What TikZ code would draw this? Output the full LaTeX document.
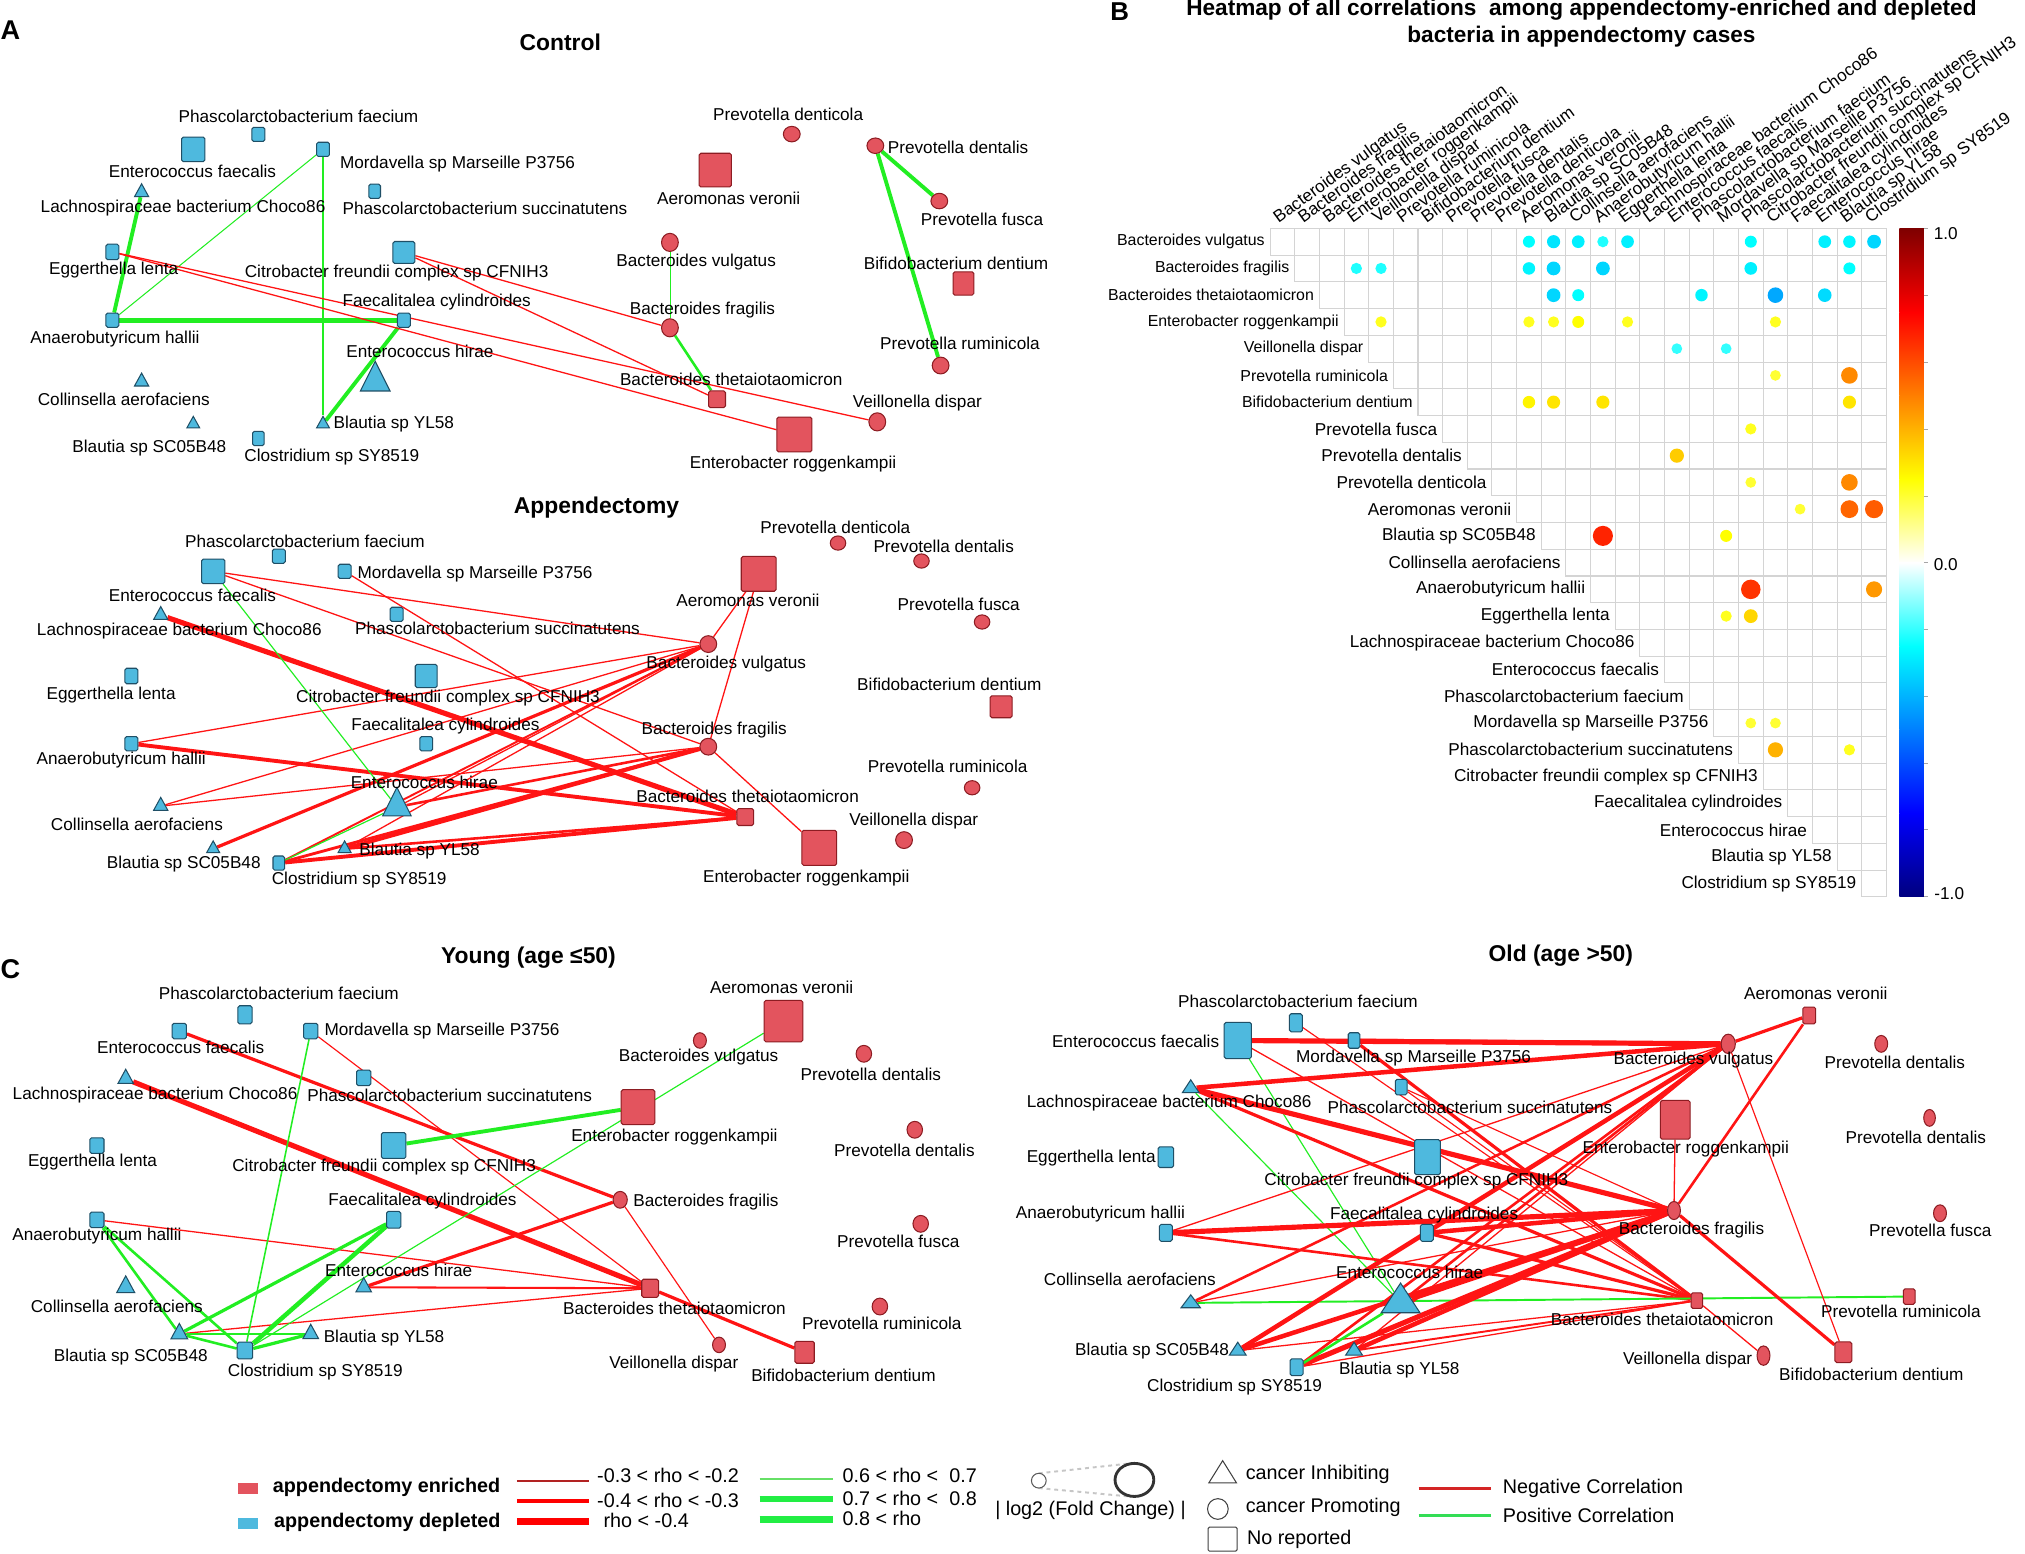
\documentclass[tikz,border=0pt]{standalone}
\usepackage{fontspec}
\setmainfont{Liberation Sans}
\usetikzlibrary{shapes.geometric}
\pgfdeclarelayer{edges}
\pgfdeclarelayer{bg}
\pgfsetlayers{bg,edges,main}
\definecolor{depC}{HTML}{4EB9DE}
\definecolor{depD}{HTML}{1F4F66}
\definecolor{enrC}{HTML}{E3545E}
\definecolor{enrD}{HTML}{8C1C22}
\definecolor{negC}{HTML}{FF1414}
\definecolor{posC}{HTML}{22EE22}
\definecolor{hmDR}{HTML}{7F0000}
\definecolor{hmR}{HTML}{FF0000}
\definecolor{hmO}{HTML}{FF7F00}
\definecolor{hmY}{HTML}{FFFF00}
\definecolor{hmC}{HTML}{00FFFF}
\definecolor{hmB1}{HTML}{007FFF}
\definecolor{hmB}{HTML}{0000FF}
\definecolor{hmDB}{HTML}{00007F}
\definecolor{gridc}{HTML}{D4D4D4}
\definecolor{lgDR}{HTML}{B22222}
\definecolor{lgG1}{HTML}{66E066}
\definecolor{lgG}{HTML}{22EE44}
\definecolor{lgNeg}{HTML}{D42525}
\definecolor{lgPos}{HTML}{33DD55}
\newcommand\mylf{\fontsize{13.3}{15}\selectfont}
\newcommand\myhf{\fontsize{12.3}{14}\selectfont}
\newcommand\myhcf{\fontsize{13.3}{15}\selectfont}
\newcommand\myttl{\fontsize{17.7}{20}\selectfont\bfseries}
\newcommand\mylg{\fontsize{15.3}{17}\selectfont}
\newcommand\hdot[4]{\fill[#4] ({983+(#2-0.5)*19.08},{176.7+(#1-0.5)*20.7}) circle[radius={9.3*sqrt(#3)}];}
\begin{document}
\begin{tikzpicture}[x=1pt,y=-1pt,
  lbl/.style={font=\mylf, inner sep=0pt},
  lblw/.style={lbl, anchor=west},
  lble/.style={lbl, anchor=east},
  ttl/.style={font=\myttl, inner sep=0pt},
  dep/.style={fill=depC, draw=depD, line width=0.8pt},
  enr/.style={fill=enrC, draw=enrD, line width=0.8pt},
  sq/.style 2 args={rectangle, rounded corners=1.3pt, minimum width=#1pt, minimum height=#2pt, inner sep=0pt},
  el/.style 2 args={ellipse, minimum width=#1pt, minimum height=#2pt, inner sep=0pt},
  tri/.style 2 args={isosceles triangle, isosceles triangle stretches, rotate=90, minimum width=#2pt, minimum height=#1pt, inner sep=0pt},
  negl/.style={draw=negC, line width=#1pt},
  posl/.style={draw=posC, line width=#1pt},
  lgt/.style={font=\mylg, inner sep=0pt, anchor=west}
]
\useasboundingbox (0,0) rectangle (1567.3,1202);
\begin{pgfonlayer}{bg}
\fill[white] (0,0) rectangle (1567.3,1202);
\end{pgfonlayer}

% ================= Panel letters and titles
\node[font=\fontsize{21}{24}\selectfont\bfseries, inner sep=0] (pA) at (8,23) {A};
\node[font=\fontsize{20}{24}\selectfont\bfseries, inner sep=0] (pB) at (866.6,9) {B};
\node[font=\fontsize{21}{24}\selectfont\bfseries, inner sep=0] (pC) at (8,750) {C};
\node[ttl] (tCtrl) at (433.6,33) {Control};
\node[ttl] (tApp) at (461.7,392.9) {Appendectomy};
\node[ttl] (tYoung) at (409,741.3) {Young (age ≤50)};
\node[ttl] (tOld) at (1208,739.5) {Old (age >50)};

% ================= Control
\node[dep,sq={10}{11}] (cPf) at (200,104) {};
\node[lbl] (cPfL) at (231,90) {Phascolarctobacterium faecium};
\node[dep,sq={18}{19}] (cEf) at (149.6,115.6) {};
\node[lbl] (cEfL) at (149,133) {Enterococcus faecalis};
\node[dep,sq={10}{11}] (cMo) at (250,115.6) {};
\node[lblw] (cMoL) at (263,127) {Mordavella sp Marseille P3756};
\node[dep,tri={10}{11}] (cLa) at (109.6,149) {};
\node[lbl] (cLaL) at (141.7,160.8) {Lachnospiraceae bacterium Choco86};
\node[dep,sq={9}{11}] (cPs) at (290,148) {};
\node[lblw] (cPsL) at (265,161) {Phascolarctobacterium succinatutens};
\node[dep,sq={10}{12}] (cEl) at (87,195) {};
\node[lbl] (cElL) at (88,209) {Eggerthella lenta};
\node[dep,sq={17}{17}] (cCi) at (312.6,195.4) {};
\node[lbl] (cCiL) at (307,211) {Citrobacter freundii complex sp CFNIH3};
\node[dep,sq={10}{11}] (cFc) at (312.6,247.8) {};
\node[lbl] (cFcL) at (338,234) {Faecalitalea cylindroides};
\node[dep,sq={10}{11}] (cAh) at (87,247.8) {};
\node[lbl] (cAhL) at (89,262.7) {Anaerobutyricum hallii};
\node[dep,tri={23}{23}] (cEh) at (290.4,295.5) {};
\node[lbl] (cEhL) at (325,271.8) {Enterococcus hirae};
\node[dep,tri={10}{11}] (cCo) at (109.6,295.5) {};
\node[lbl] (cCoL) at (95.8,309) {Collinsella aerofaciens};
\node[dep,tri={9}{10}] (cBs) at (149.6,328.3) {};
\node[lbl] (cBsL) at (115.6,347) {Blautia sp SC05B48};
\node[dep,tri={9}{10}] (cBy) at (250,328.3) {};
\node[lblw] (cByL) at (258,328) {Blautia sp YL58};
\node[dep,sq={9}{11}] (cCl) at (200,339.4) {};
\node[lbl] (cClL) at (256.8,353.6) {Clostridium sp SY8519};
\node[enr,el={13}{12}] (cPdc) at (612.8,103.8) {};
\node[lbl] (cPdcL) at (610,88.5) {Prevotella denticola};
\node[enr,sq={25}{26}] (cAv) at (553.6,131.6) {};
\node[lbl] (cAvL) at (564,153.3) {Aeromonas veronii};
\node[enr,el={13}{12}] (cPdl) at (677.5,112.8) {};
\node[lblw] (cPdlL) at (687,114) {Prevotella dentalis};
\node[enr,el={13}{12}] (cPfu) at (727,155.6) {};
\node[lbl] (cPfuL) at (760,170) {Prevotella fusca};
\node[enr,el={13}{14}] (cBv) at (518.5,187.6) {};
\node[lbl] (cBvL) at (538.8,202.6) {Bacteroides vulgatus};
\node[enr,sq={16}{18}] (cBd) at (745.7,219.4) {};
\node[lbl] (cBdL) at (740,204) {Bifidobacterium dentium};
\node[enr,el={13}{14}] (cBf) at (518.5,253.7) {};
\node[lbl] (cBfL) at (543.7,240) {Bacteroides fragilis};
\node[enr,el={13}{13}] (cPr) at (728,282.9) {};
\node[lbl] (cPrL) at (743,266) {Prevotella ruminicola};
\node[enr,sq={13}{13}] (cBt) at (555,309) {};
\node[lbl] (cBtL) at (566,293.7) {Bacteroides thetaiotaomicron};
\node[enr,el={13}{14}] (cVd) at (679,326.5) {};
\node[lbl] (cVdL) at (710,312) {Veillonella dispar};
\node[enr,sq={27}{27}] (cEr) at (614.8,336.3) {};
\node[lbl] (cErL) at (613.8,359.3) {Enterobacter roggenkampii};
\begin{pgfonlayer}{edges}
\draw[posl=3] (cLa) -- (cAh);
\draw[posl=0.8] (cMo) -- (cAh);
\draw[posl=0.9] (cMo) -- (cBy);
\draw[posl=4] (cAh) -- (cFc);
\draw[posl=3] (cFc) -- (cBy);
\draw[posl=0.6] (cBv) -- (cBf);
\draw[posl=2] (cBf) -- (cBt);
\draw[posl=3] (cPdl) -- (cPfu);
\draw[posl=3] (cPdl) -- (cPr);
\draw[negl=1] (cEl) -- (cVd);
\draw[negl=1] (cEl) -- (cEr);
\draw[negl=1] (cCi) -- (cBf);
\draw[negl=1] (cCi) -- (cBt);
\end{pgfonlayer}

% ================= Appendectomy
\node[dep,sq={10}{11}] (aPf) at (215.8,430.5) {};
\node[lbl] (aPfL) at (236,419) {Phascolarctobacterium faecium};
\node[dep,sq={18}{19}] (aEf) at (165,442.2) {};
\node[lbl] (aEfL) at (149,460.7) {Enterococcus faecalis};
\node[dep,sq={10}{11}] (aMo) at (266.7,442.2) {};
\node[lblw] (aMoL) at (276.5,444) {Mordavella sp Marseille P3756};
\node[dep,tri={10}{11}] (aLa) at (124.4,476.2) {};
\node[lbl] (aLaL) at (138.8,488.4) {Lachnospiraceae bacterium Choco86};
\node[dep,sq={10}{11}] (aPs) at (307,475.5) {};
\node[lbl] (aPsL) at (385,486.6) {Phascolarctobacterium succinatutens};
\node[dep,sq={10}{12}] (aEl) at (101.7,523.2) {};
\node[lbl] (aElL) at (86,538.2) {Eggerthella lenta};
\node[dep,sq={17}{18}] (aCi) at (329.9,523.2) {};
\node[lbl] (aCiL) at (346.7,540) {Citrobacter freundii complex sp CFNIH3};
\node[dep,sq={10}{11}] (aFc) at (329.9,575.6) {};
\node[lbl] (aFcL) at (344.7,562.2) {Faecalitalea cylindroides};
\node[dep,sq={10}{11}] (aAh) at (101.7,575.6) {};
\node[lbl] (aAhL) at (93.8,588.5) {Anaerobutyricum hallii};
\node[dep,tri={22}{22}] (aEh) at (307.2,624.6) {};
\node[lbl] (aEhL) at (328.4,605.8) {Enterococcus hirae};
\node[dep,tri={10}{11}] (aCo) at (124.4,623.9) {};
\node[lbl] (aCoL) at (106,638.3) {Collinsella aerofaciens};
\node[dep,tri={9}{10}] (aBs) at (165,656.9) {};
\node[lbl] (aBsL) at (142.2,669) {Blautia sp SC05B48};
\node[dep,sq={9}{11}] (aCl) at (215.8,668) {};
\node[lbl] (aClL) at (278,681.4) {Clostridium sp SY8519};
\node[dep,tri={9}{10}] (aBy) at (266.7,656.9) {};
\node[lblw] (aByL) at (278,659) {Blautia sp YL58};
\node[enr,el={12}{11}] (aPdc) at (648.6,420.3) {};
\node[lbl] (aPdcL) at (646.5,408) {Prevotella denticola};
\node[enr,el={12}{11}] (aPdl) at (713.2,434.2) {};
\node[lbl] (aPdlL) at (730.4,423) {Prevotella dentalis};
\node[enr,sq={27}{27}] (aAv) at (587.2,444.1) {};
\node[lbl] (aAvL) at (578.9,464.6) {Aeromonas veronii};
\node[enr,el={12}{11}] (aPfu) at (760.1,481.4) {};
\node[lbl] (aPfuL) at (742,468) {Prevotella fusca};
\node[enr,el={13}{13}] (aBv) at (548.2,498.5) {};
\node[lbl] (aBvL) at (562.1,513.6) {Bacteroides vulgatus};
\node[enr,sq={17}{17}] (aBd) at (774.8,547) {};
\node[lbl] (aBdL) at (734.8,529.5) {Bifidobacterium dentium};
\node[enr,el={13}{13}] (aBf) at (548.2,577.9) {};
\node[lbl] (aBfL) at (552.8,564.8) {Bacteroides fragilis};
\node[enr,el={12}{11}] (aPr) at (752.4,609.7) {};
\node[lbl] (aPrL) at (733.5,593) {Prevotella ruminicola};
\node[enr,sq={13}{13}] (aBt) at (576.8,632.4) {};
\node[lbl] (aBtL) at (578.6,616) {Bacteroides thetaiotaomicron};
\node[enr,el={13}{13}] (aVd) at (699.7,650.2) {};
\node[lbl] (aVdL) at (707.2,635.5) {Veillonella dispar};
\node[enr,sq={27}{27}] (aEr) at (634.1,656.2) {};
\node[lbl] (aErL) at (624,679.2) {Enterobacter roggenkampii};
\begin{pgfonlayer}{edges}
\draw[negl=1] (aEf) -- (aBv);
\draw[negl=1] (aEf) -- (aBf);
\draw[negl=1] (aMo) -- (aBt);
\draw[negl=4] (aLa) -- (aBt);
\draw[negl=1] (aAh) -- (aBv);
\draw[negl=3] (aAh) -- (aBt);
\draw[negl=1] (aCo) -- (aBv);
\draw[negl=1] (aCo) -- (aBf);
\draw[negl=2.5] (aBs) -- (aBv);
\draw[negl=1.5] (aCl) -- (aBv);
\draw[negl=1] (aBy) -- (aBv);
\draw[negl=1] (aEh) -- (aBv);
\draw[negl=2] (aEh) -- (aBf);
\draw[negl=2.2] (aCl) -- (aBf);
\draw[negl=3] (aBy) -- (aBf);
\draw[negl=3] (aCl) -- (aBt);
\draw[negl=2] (aBy) -- (aBt);
\draw[negl=1] (aAv) -- (aBv);
\draw[negl=1] (aAv) -- (aBf);
\draw[negl=1] (aBf) -- (aEr);
\draw[posl=0.9] (aEf) -- (aEh);
\draw[posl=0.9] (aCl) -- (aEh);
\end{pgfonlayer}

% ================= Young
\node[dep,sq={11}{14}] (yPf) at (189.6,785.4) {};
\node[lbl] (yPfL) at (215.8,769.1) {Phascolarctobacterium faecium};
\node[dep,sq={11}{12}] (yEf) at (138.8,798) {};
\node[lbl] (yEfL) at (139.8,811) {Enterococcus faecalis};
\node[dep,sq={11}{12}] (yMo) at (240.5,798) {};
\node[lblw] (yMoL) at (251,798) {Mordavella sp Marseille P3756};
\node[dep,tri={11}{12}] (yLa) at (97.3,835) {};
\node[lbl] (yLaL) at (120,847.3) {Lachnospiraceae bacterium Choco86};
\node[dep,sq={11}{12}] (yPs) at (281.5,834.2) {};
\node[lbl] (yPsL) at (348,847.9) {Phascolarctobacterium succinatutens};
\node[dep,sq={11}{12}] (yEl) at (75,886.6) {};
\node[lbl] (yElL) at (71.6,899.5) {Eggerthella lenta};
\node[dep,sq={19}{20}] (yCi) at (304.7,886.6) {};
\node[lbl] (yCiL) at (297.3,903.3) {Citrobacter freundii complex sp CFNIH3};
\node[dep,sq={11}{13}] (yFc) at (304.7,944.1) {};
\node[lbl] (yFcL) at (327,929.2) {Faecalitalea cylindroides};
\node[dep,sq={11}{12}] (yAh) at (75,944.1) {};
\node[lbl] (yAhL) at (75,957) {Anaerobutyricum hallii};
\node[dep,tri={11}{12}] (yEh) at (281.5,996.3) {};
\node[lbl] (yEhL) at (308.6,983.4) {Enterococcus hirae};
\node[dep,tri={13}{14}] (yCo) at (97.3,996.3) {};
\node[lbl] (yCoL) at (90.4,1011.2) {Collinsella aerofaciens};
\node[dep,tri={12}{13}] (yBs) at (138.8,1032.4) {};
\node[lbl] (yBsL) at (101.2,1050.5) {Blautia sp SC05B48};
\node[dep,tri={11}{12}] (yBy) at (240.5,1032.4) {};
\node[lblw] (yByL) at (250.4,1035.5) {Blautia sp YL58};
\node[dep,sq={12}{13}] (yCl) at (189.6,1045.3) {};
\node[lbl] (yClL) at (244,1062.1) {Clostridium sp SY8519};
\node[enr,sq={30}{32}] (yAv) at (606.4,790.3) {};
\node[lbl] (yAvL) at (605,764.5) {Aeromonas veronii};
\node[enr,el={10}{12}] (yBv) at (541.7,805.3) {};
\node[lbl] (yBvL) at (540.7,818.2) {Bacteroides vulgatus};
\node[enr,el={12}{13}] (yPdl) at (668.6,815.6) {};
\node[lbl] (yPdlL) at (674,831.6) {Prevotella dentalis};
\node[enr,sq={26}{27}] (yEr) at (493.8,856.9) {};
\node[lbl] (yErL) at (522,880.1) {Enterobacter roggenkampii};
\node[enr,el={12}{13}] (yPdm) at (708,874.4) {};
\node[lbl] (yPdmL) at (700,890.5) {Prevotella dentalis};
\node[enr,el={11}{13}] (yBf) at (480,928.6) {};
\node[lblw] (yBfL) at (490,930.5) {Bacteroides fragilis};
\node[enr,el={12}{13}] (yPfu) at (712.6,947.2) {};
\node[lbl] (yPfuL) at (695.3,960.6) {Prevotella fusca};
\node[enr,sq={13}{14}] (yBt) at (503.2,997.1) {};
\node[lbl] (yBtL) at (522,1013) {Bacteroides thetaiotaomicron};
\node[enr,el={12}{13}] (yPr) at (681,1011.2) {};
\node[lbl] (yPrL) at (682.5,1024.1) {Prevotella ruminicola};
\node[enr,el={10}{12}] (yVd) at (556.5,1040.9) {};
\node[lbl] (yVdL) at (521.5,1055.6) {Veillonella dispar};
\node[enr,sq={15}{17}] (yBd) at (622.7,1046.6) {};
\node[lbl] (yBdL) at (652.8,1064.7) {Bifidobacterium dentium};
\begin{pgfonlayer}{edges}
\draw[negl=2.5] (yEf) -- (yBf);
\draw[negl=0.9] (yMo) -- (yBt);
\draw[negl=4] (yLa) -- (yBt);
\draw[negl=2.5] (yBt) -- (yBd);
\draw[negl=0.9] (yBf) -- (yVd);
\draw[negl=1] (yAh) -- (yBt);
\draw[negl=2.5] (yEh) -- (yBf);
\draw[negl=1.6] (yEh) -- (yBt);
\draw[negl=1] (yBs) -- (yBt);
\draw[posl=3] (yCi) -- (yEr);
\draw[posl=0.9] (yAv) -- (yCl);
\draw[posl=1.2] (yMo) -- (yCl);
\draw[posl=2] (yAh) -- (yBs);
\draw[posl=2] (yAh) -- (yCl);
\draw[posl=2.5] (yFc) -- (yBs);
\draw[posl=3.5] (yFc) -- (yCl);
\draw[posl=2] (yBs) -- (yBy);
\draw[posl=2] (yBs) -- (yCl);
\draw[posl=2.5] (yCl) -- (yBy);
\end{pgfonlayer}

% ================= Old
\node[dep,sq={10}{14}] (oPf) at (1003,791.6) {};
\node[lbl] (oPfL) at (1004.6,774.8) {Phascolarctobacterium faecium};
\node[dep,sq={21}{28}] (oEf) at (958,805.3) {};
\node[lble] (oEfL) at (943.8,806) {Enterococcus faecalis};
\node[dep,sq={9}{12}] (oMo) at (1048,805.3) {};
\node[lbl] (oMoL) at (1094,819) {Mordavella sp Marseille P3756};
\node[dep,tri={10}{13}] (oLa) at (921.6,842.2) {};
\node[lbl] (oLaL) at (904.9,853.8) {Lachnospiraceae bacterium Choco86};
\node[dep,sq={9}{12}] (oPs) at (1084.5,841.4) {};
\node[lbl] (oPsL) at (1137.7,856.9) {Phascolarctobacterium succinatutens};
\node[dep,sq={12}{16}] (oEl) at (902.3,895.6) {};
\node[lble] (oElL) at (894.7,896.6) {Eggerthella lenta};
\node[dep,sq={20}{27}] (oCi) at (1104.8,895.6) {};
\node[lbl] (oCiL) at (1096.2,914.2) {Citrobacter freundii complex sp CFNIH3};
\node[dep,sq={10}{13}] (oFc) at (1104.3,954.2) {};
\node[lbl] (oFcL) at (1102.2,940.3) {Faecalitalea cylindroides};
\node[dep,sq={10}{13}] (oAh) at (902.3,954.2) {};
\node[lbl] (oAhL) at (851.7,940) {Anaerobutyricum hallii};
\node[dep,tri={23}{30}] (oEh) at (1084,1007.9) {};
\node[lbl] (oEhL) at (1091,984.4) {Enterococcus hirae};
\node[dep,tri={10}{15}] (oCo) at (921.6,1008.4) {};
\node[lbl] (oCoL) at (874.5,989.8) {Collinsella aerofaciens};
\node[dep,tri={10}{13}] (oBs) at (958,1045.3) {};
\node[lble] (oBsL) at (951.4,1045.8) {Blautia sp SC05B48};
\node[dep,tri={10}{13}] (oBy) at (1048,1045.3) {};
\node[lbl] (oByL) at (1083,1060.3) {Blautia sp YL58};
\node[dep,sq={10}{13}] (oCl) at (1003.5,1058.2) {};
\node[lbl] (oClL) at (955.5,1073.7) {Clostridium sp SY8519};
\node[enr,sq={10}{13}] (oAv) at (1400.3,785.9) {};
\node[lbl] (oAvL) at (1405.4,769.1) {Aeromonas veronii};
\node[enr,el={11}{15}] (oBv) at (1337.6,807.9) {};
\node[lbl] (oBvL) at (1310.7,820.8) {Bacteroides vulgatus};
\node[enr,el={10}{13}] (oPdl) at (1456,807.9) {};
\node[lbl] (oPdlL) at (1466.6,822.6) {Prevotella dentalis};
\node[enr,sq={23}{30}] (oEr) at (1296.6,866.7) {};
\node[lbl] (oErL) at (1304.7,889.2) {Enterobacter roggenkampii};
\node[enr,el={9}{13}] (oPdm) at (1493.4,865.2) {};
\node[lbl] (oPdmL) at (1482.8,879.9) {Prevotella dentalis};
\node[enr,el={10}{14}] (oBf) at (1295.6,936.9) {};
\node[lbl] (oBfL) at (1309.2,952.4) {Bacteroides fragilis};
\node[enr,el={10}{13}] (oPfu) at (1501.5,939) {};
\node[lbl] (oPfuL) at (1494,952.4) {Prevotella fusca};
\node[enr,sq={9}{12}] (oBt) at (1313.3,1006.6) {};
\node[lbl] (oBtL) at (1286.4,1021) {Bacteroides thetaiotaomicron};
\node[enr,sq={9}{12}] (oPr) at (1477.7,1003.5) {};
\node[lbl] (oPrL) at (1471.2,1014.8) {Prevotella ruminicola};
\node[enr,el={10}{15}] (oVd) at (1364.9,1049.2) {};
\node[lble] (oVdL) at (1356.3,1053) {Veillonella dispar};
\node[enr,sq={13}{16}] (oBd) at (1426.7,1046.6) {};
\node[lbl] (oBdL) at (1448.4,1063.4) {Bifidobacterium dentium};
\begin{pgfonlayer}{edges}
\draw[negl=4] (oEf) -- (oBv);
\draw[negl=1] (oEf) -- (oBt);
\draw[posl=0.9] (oEf) -- (oEh);
\draw[negl=0.9] (oPf) -- (oBt);
\draw[negl=3] (oMo) -- (oBv);
\draw[negl=2.5] (oMo) -- (oBt);
\draw[negl=3.5] (oLa) -- (oBv);
\draw[negl=4] (oLa) -- (oBf);
\draw[negl=2.5] (oLa) -- (oBt);
\draw[posl=0.9] (oLa) -- (oEh);
\draw[negl=0.9] (oPs) -- (oBf);
\draw[negl=0.9] (oPs) -- (oBt);
\draw[negl=1] (oAh) -- (oBv);
\draw[negl=4] (oAh) -- (oBf);
\draw[negl=2] (oAh) -- (oBt);
\draw[negl=3.5] (oFc) -- (oBf);
\draw[negl=2.5] (oFc) -- (oBt);
\draw[negl=2] (oCo) -- (oBv);
\draw[negl=1] (oCo) -- (oBf);
\draw[posl=1.5] (oCo) -- (oPr);
\draw[negl=3.5] (oBs) -- (oBv);
\draw[negl=3.5] (oBs) -- (oBf);
\draw[negl=1] (oBs) -- (oBt);
\draw[negl=2] (oCl) -- (oBv);
\draw[negl=4] (oCl) -- (oBf);
\draw[negl=1] (oCl) -- (oBt);
\draw[posl=2] (oCl) -- (oEh);
\draw[negl=1] (oBy) -- (oBv);
\draw[negl=3.5] (oBy) -- (oBf);
\draw[negl=1.5] (oBy) -- (oBt);
\draw[negl=2] (oEh) -- (oBv);
\draw[negl=4] (oEh) -- (oBf);
\draw[negl=2.5] (oBv) -- (oAv);
\draw[negl=2] (oAv) -- (oBf);
\draw[negl=1] (oEr) -- (oBf);
\draw[negl=0.9] (oBv) -- (oBd);
\draw[negl=2.5] (oBf) -- (oBd);
\draw[negl=1] (oBt) -- (oVd);
\end{pgfonlayer}

% ================= Heatmap B
\node[font=\fontsize{17.5}{20.7}\selectfont\bfseries, align=center, inner sep=0] (hmT) at (1224,18)
  {Heatmap of all correlations~ among appendectomy-enriched and depleted\\bacteria in appendectomy cases};
\foreach \i in {1,...,25}{\foreach \j in {\i,...,25}{
  \draw[gridc, line width=0.8pt] ({983+(\j-1)*19.08},{176.7+(\i-1)*20.7}) rectangle ++(19.08,20.7);}}
\foreach \nm [count=\i] in {Bacteroides vulgatus,Bacteroides fragilis,Bacteroides thetaiotaomicron,Enterobacter roggenkampii,Veillonella dispar,Prevotella ruminicola,Bifidobacterium dentium,Prevotella fusca,Prevotella dentalis,Prevotella denticola,Aeromonas veronii,Blautia sp SC05B48,Collinsella aerofaciens,Anaerobutyricum hallii,Eggerthella lenta,Lachnospiraceae bacterium Choco86,Enterococcus faecalis,Phascolarctobacterium faecium,Mordavella sp Marseille P3756,Phascolarctobacterium succinatutens,Citrobacter freundii complex sp CFNIH3,Faecalitalea cylindroides,Enterococcus hirae,Blautia sp YL58,Clostridium sp SY8519}{
  \node[anchor=east, inner sep=0] (hr\i) at ({983+(\i-1)*19.08-4},{176.7+(\i-0.5)*20.7}) {\ifnum\i<8 \myhf\else\mylf\fi \nm};
  \node[anchor=base west, rotate=36, font=\myhcf, inner sep=0] (hc\i) at ({983+(\i-0.5)*19.08-3},173) {\nm};
}
\hdot{1}{11}{0.25}{hmC}
\hdot{1}{12}{0.3}{hmB1!20!hmC}
\hdot{1}{13}{0.28}{hmB1!12!hmC}
\hdot{1}{14}{0.22}{hmC!88!white}
\hdot{1}{15}{0.28}{hmB1!12!hmC}
\hdot{1}{20}{0.25}{hmC}
\hdot{1}{23}{0.28}{hmB1!12!hmC}
\hdot{1}{24}{0.27}{hmB1!8!hmC}
\hdot{1}{25}{0.33}{hmB1!32!hmC}
\hdot{2}{4}{0.22}{hmC!88!white}
\hdot{2}{5}{0.22}{hmC!88!white}
\hdot{2}{11}{0.27}{hmB1!8!hmC}
\hdot{2}{12}{0.33}{hmB1!32!hmC}
\hdot{2}{14}{0.33}{hmB1!32!hmC}
\hdot{2}{20}{0.28}{hmB1!12!hmC}
\hdot{2}{24}{0.25}{hmC}
\hdot{3}{12}{0.33}{hmB1!32!hmC}
\hdot{3}{13}{0.25}{hmC}
\hdot{3}{18}{0.27}{hmB1!8!hmC}
\hdot{3}{21}{0.42}{hmB1!68!hmC}
\hdot{3}{23}{0.32}{hmB1!28!hmC}
\hdot{4}{5}{0.22}{hmY!88!white}
\hdot{4}{11}{0.22}{hmY!88!white}
\hdot{4}{12}{0.22}{hmY!88!white}
\hdot{4}{13}{0.25}{hmY}
\hdot{4}{15}{0.22}{hmY!88!white}
\hdot{4}{21}{0.22}{hmY!88!white}
\hdot{5}{17}{0.2}{hmC!80!white}
\hdot{5}{19}{0.2}{hmC!80!white}
\hdot{6}{21}{0.2}{hmY!80!white}
\hdot{6}{24}{0.48}{hmO!92!hmY}
\hdot{7}{11}{0.27}{hmO!8!hmY}
\hdot{7}{12}{0.3}{hmO!20!hmY}
\hdot{7}{14}{0.3}{hmO!20!hmY}
\hdot{7}{24}{0.3}{hmO!20!hmY}
\hdot{8}{20}{0.22}{hmY!88!white}
\hdot{9}{17}{0.35}{hmO!40!hmY}
\hdot{10}{20}{0.2}{hmY!80!white}
\hdot{10}{24}{0.48}{hmO!92!hmY}
\hdot{11}{22}{0.2}{hmY!80!white}
\hdot{11}{24}{0.55}{hmR!20!hmO}
\hdot{11}{25}{0.57}{hmR!28!hmO}
\hdot{12}{14}{0.7}{hmR!72!hmO}
\hdot{12}{19}{0.25}{hmY}
\hdot{14}{20}{0.66}{hmR!60!hmO}
\hdot{14}{25}{0.45}{hmO!80!hmY}
\hdot{15}{19}{0.22}{hmY!88!white}
\hdot{15}{20}{0.33}{hmO!32!hmY}
\hdot{19}{20}{0.2}{hmY!80!white}
\hdot{19}{21}{0.2}{hmY!80!white}
\hdot{20}{21}{0.4}{hmO!60!hmY}
\hdot{20}{24}{0.22}{hmY!88!white}
% colour bar
\shade[top color=hmDR, bottom color=hmR] (1470,177) rectangle (1489,241.7);
\shade[top color=hmR, bottom color=hmO] (1470,241.6) rectangle (1489,306.3);
\shade[top color=hmO, bottom color=hmY] (1470,306.2) rectangle (1489,370.9);
\shade[top color=hmY, bottom color=white] (1470,370.8) rectangle (1489,435.6);
\shade[top color=white, bottom color=hmC] (1470,435.5) rectangle (1489,500.2);
\shade[top color=hmC, bottom color=hmB1] (1470,500.1) rectangle (1489,564.8);
\shade[top color=hmB1, bottom color=hmB] (1470,564.7) rectangle (1489,629.4);
\shade[top color=hmB, bottom color=hmDB] (1470,629.3) rectangle (1489,694);
\foreach \k in {0,...,10}{\draw[gray!70, line width=0.6pt] (1489,{177+\k*51.7}) -- (1492.5,{177+\k*51.7});}
\node[lblw] (cb1) at (1496.5,181) {1.0};
\node[lblw] (cb0) at (1496.5,437) {0.0};
\node[lblw] (cbm) at (1497,691.5) {-1.0};

% ================= Legend
\fill[enrC] (184,1148) rectangle (200,1156.2);
\fill[depC] (184,1175) rectangle (200,1183.7);
\node[lgt, font=\mylg\bfseries] (lg1) at (211,1151) {appendectomy enriched};
\node[lgt, font=\mylg\bfseries] (lg2) at (212,1178) {appendectomy depleted};
\draw[lgDR, line width=1.6pt] (400,1146) -- (456,1146);
\draw[red, line width=3.2pt] (400,1161.5) -- (456,1161.5);
\draw[red, line width=5.2pt] (400,1177.4) -- (456,1177.4);
\node[lgt] (lg3) at (462,1142) {-0.3 < rho < -0.2};
\node[lgt] (lg4) at (462,1161.5) {-0.4 < rho < -0.3};
\node[lgt] (lg5) at (467,1177) {rho < -0.4};
\draw[lgG1, line width=1.6pt] (588,1144.7) -- (645,1144.7);
\draw[lgG, line width=4pt] (588,1160.2) -- (645,1160.2);
\draw[lgG, line width=5.7pt] (588,1176.2) -- (645,1176.2);
\node[lgt] (lg6) at (652,1142) {0.6 < rho <~ 0.7};
\node[lgt] (lg7) at (652,1159.4) {0.7 < rho <~ 0.8};
\node[lgt] (lg8) at (652,1175.4) {0.8 < rho};
\draw[gray!45, dashed, line width=1.5pt] (804,1140.3) -- (875,1132.6);
\draw[gray!45, dashed, line width=1.5pt] (804,1151.7) -- (875,1158.3);
\draw[gray!70!black, line width=0.8pt, fill=white] (804,1146) circle[radius=5.7];
\draw[gray!40!black, line width=2.2pt, fill=white] (878,1145.4) ellipse[x radius=15, y radius=12.8];
\node[font=\mylg, inner sep=0] (lg9) at (844,1169.2) {| log2 (Fold Change) |};
\draw[gray!50!black, line width=0.8pt] (935.6,1147.7) -- (946.3,1130.5) -- (957,1147.7) -- cycle;
\draw[gray!50!black, line width=0.8pt] (942.6,1167.9) circle[radius=8];
\draw[gray!50!black, line width=0.8pt, rounded corners=1pt] (935,1182) rectangle (957.5,1200.5);
\node[lgt] (lg10) at (964,1141.3) {cancer Inhibiting};
\node[lgt] (lg11) at (964,1166.6) {cancer Promoting};
\node[lgt] (lg12) at (965,1191.1) {No reported};
\draw[lgNeg, line width=2pt] (1098,1151.9) -- (1154,1151.9);
\draw[lgPos, line width=2pt] (1098,1173) -- (1154,1173);
\node[lgt] (lg13) at (1163,1152) {Negative Correlation};
\node[lgt] (lg14) at (1163,1173) {Positive Correlation};
\end{tikzpicture}
\end{document}
